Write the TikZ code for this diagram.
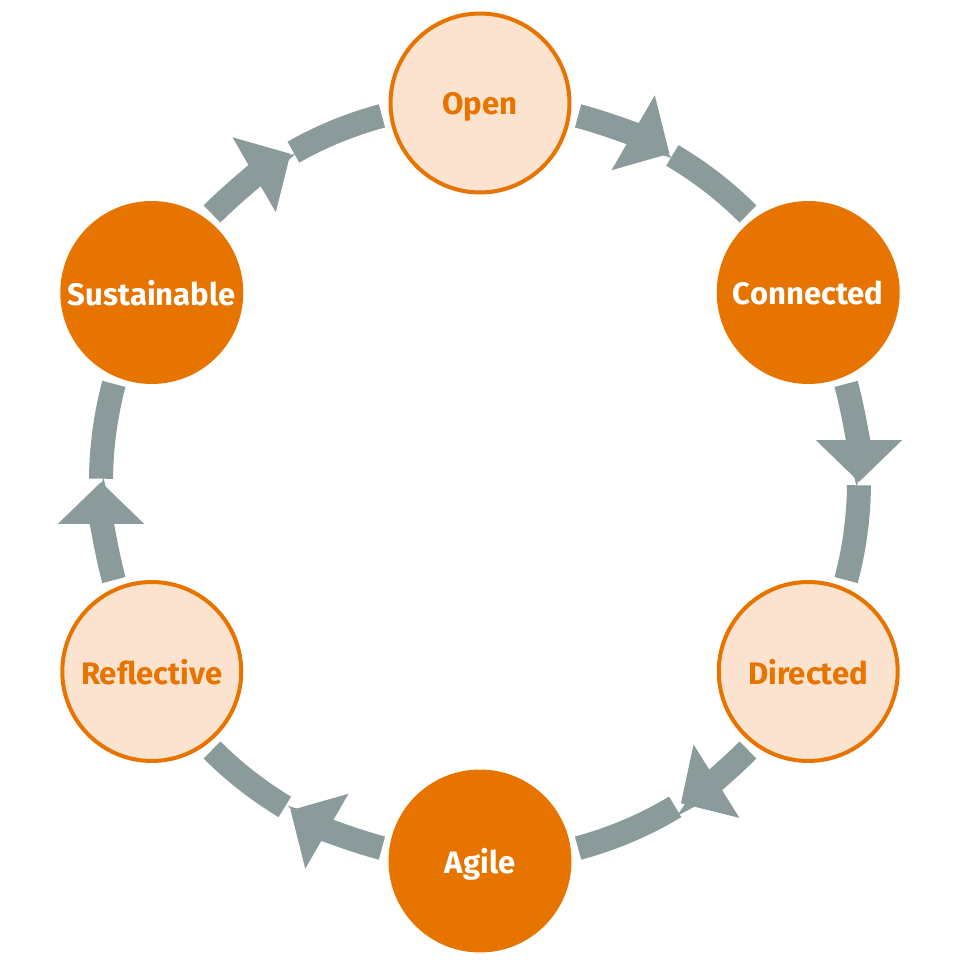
\documentclass[tikz,border=0pt]{standalone}
\usepackage{fontspec}
\setmainfont{Fira Sans}
\usepackage{tikz}
\usetikzlibrary{arrows.meta, calc}

\definecolor{dorange}{HTML}{E87400}
\definecolor{lorange}{HTML}{FCE3D0}
\definecolor{slate}{HTML}{8B9A9A}

\begin{document}
\begin{tikzpicture}[
    x=0.02cm, y=0.02cm,
    hub/.style={circle, minimum size=3.58cm, inner sep=0pt, line width=0.08cm, text depth=0pt, font=\fontsize{17.7}{20}\selectfont\bfseries},
    dark/.style={hub, draw=dorange, fill=dorange, text=white},
    light/.style={hub, draw=dorange, fill=lorange, text=dorange},
    band/.style={line width=0.48cm, draw=slate},
    bandtip/.style={band, -{Triangle[width=1.68cm, length=0.84cm]}, slate}
]
\useasboundingbox (0,0) rectangle (960,960);

% Centre of the ring
\coordinate (ring) at (480,478);

% Nodes
\node (open) [light] at ($(ring)+(90:379)$) {Open};
\node (connected) [dark] at ($(ring)+(30:379)$) {Connected};
\node (directed) [light] at ($(ring)+(-30:379)$) {Directed};
\node (agile) [dark] at ($(ring)+(-90:379)$) {Agile};
\node (reflective) [light] at ($(ring)+(-150:379)$) {Reflective};
\node (sustainable) [dark] at ($(ring)+(150:379)$) {Sustainable};

% Paths (clockwise round the ring)
\draw [bandtip] ($(ring)+(75:379)$) arc[start angle=75, end angle=60, radius=379];
\draw [band] ($(ring)+(59.5:379)$) arc[start angle=59.5, end angle=45, radius=379];

\draw [bandtip] ($(ring)+(15:379)$) arc[start angle=15, end angle=0, radius=379];
\draw [band] ($(ring)+(-0.5:379)$) arc[start angle=-0.5, end angle=-15, radius=379];

\draw [bandtip] ($(ring)+(-45:379)$) arc[start angle=-45, end angle=-58, radius=379];
\draw [band] ($(ring)+(-59:379)$) arc[start angle=-59, end angle=-75, radius=379];

\draw [bandtip] ($(ring)+(-105:379)$) arc[start angle=-105, end angle=-120, radius=379];
\draw [band] ($(ring)+(-121:379)$) arc[start angle=-121, end angle=-135, radius=379];

\draw [bandtip] ($(ring)+(195:379)$) arc[start angle=195, end angle=180, radius=379];
\draw [band] ($(ring)+(179.5:379)$) arc[start angle=179.5, end angle=165, radius=379];

\draw [bandtip] ($(ring)+(135:379)$) arc[start angle=135, end angle=120, radius=379];
\draw [band] ($(ring)+(119.5:379)$) arc[start angle=119.5, end angle=105, radius=379];

\end{tikzpicture}
\end{document}
